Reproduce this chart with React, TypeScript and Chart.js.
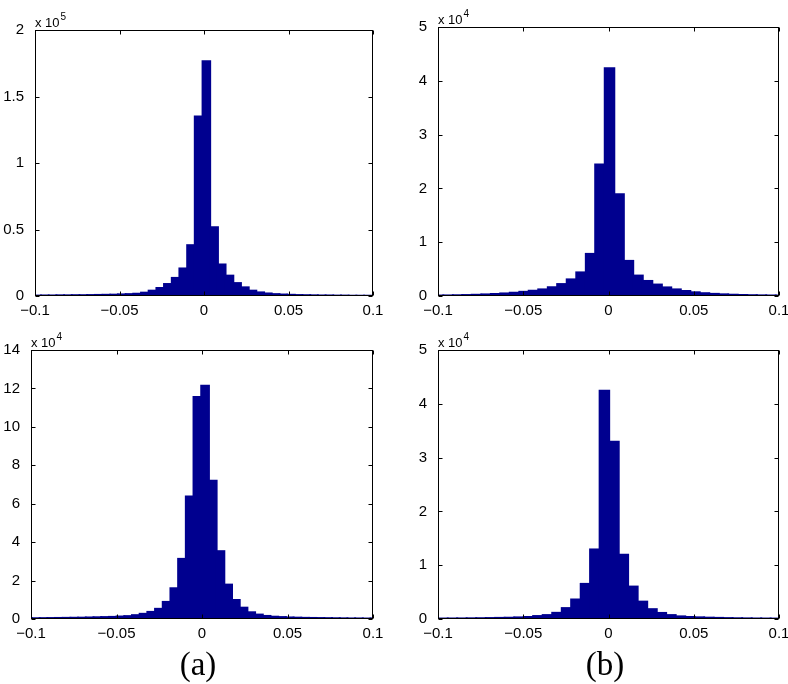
import { useEffect, useRef } from 'react';
import { Chart, registerables } from 'chart.js';

Chart.register(...registerables);

// ---------- data ----------
const xTickValues = [-0.1, -0.05, 0, 0.05, 0.1];
const xTickLabels = ['\u22120.1', '\u22120.05', '0', '0.05', '0.1'];

// top-left histogram (x 10^5)
const binsTL = [
  -0.0987, -0.0942, -0.0896, -0.0851, -0.0805, -0.076, -0.0714, -0.0669, -0.0623, -0.0578, -0.0532,
  -0.0487, -0.0441, -0.0396, -0.035, -0.0305, -0.0259, -0.0214, -0.0168, -0.0123, -0.0077, -0.0032,
  0.0014, 0.006, 0.0105, 0.0151, 0.0196, 0.0242, 0.0287, 0.0333, 0.0378, 0.0424, 0.0469,
  0.0515, 0.056, 0.0606, 0.0651, 0.0697, 0.0742, 0.0788, 0.0833, 0.0879, 0.0924, 0.097,
];
const countsTL = [
  600, 700, 700, 800, 800, 900, 900, 1000, 1100, 1200, 1300,
  1500, 1700, 2000, 2800, 4300, 6300, 9300, 13900, 21000, 38500, 135300,
  176800, 52000, 24000, 15600, 10000, 6800, 4300, 3000, 2200, 1700, 1400,
  1200, 1000, 900, 800, 700, 700, 600, 600, 500, 500, 500,
];
const yTicksTL = [0, 50000, 100000, 150000, 200000];
const yLabelsTL = ['0', '0.5', '1', '1.5', '2'];

// top-right histogram (x 10^4)
const binsTR = [
  -0.0997, -0.0941, -0.0885, -0.083, -0.0774, -0.0718, -0.0662, -0.0607, -0.0551, -0.0495,
  -0.044, -0.0384, -0.0328, -0.0273, -0.0217, -0.0161, -0.0105, -0.005, 0.0006,
  0.0062, 0.0117, 0.0173, 0.0229, 0.0285, 0.034, 0.0396, 0.0452, 0.0507, 0.0563,
  0.0619, 0.0674, 0.073, 0.0786, 0.0842, 0.0897, 0.0953, 0.1009,
];
const countsTR = [
  160, 180, 210, 250, 300, 370, 450, 550, 680, 850,
  1050, 1300, 1700, 2290, 3160, 4460, 7900, 24500, 42400,
  19000, 6600, 3870, 2870, 2200, 1670, 1300, 1000, 760, 590,
  470, 380, 310, 260, 220, 190, 170, 150,
];
const yTicksTR = [0, 10000, 20000, 30000, 40000, 50000];
const yLabelsTR = ['0', '1', '2', '3', '4', '5'];

// bottom-left histogram (x 10^4)
const binsBL = [
  -0.1017, -0.0972, -0.0927, -0.0882, -0.0837, -0.0792, -0.0747, -0.0702, -0.0657, -0.0612, -0.0567,
  -0.0522, -0.0477, -0.0432, -0.0387, -0.0342, -0.0297, -0.0252, -0.0207, -0.0162, -0.0117, -0.0072,
  -0.0027, 0.0018, 0.0063, 0.0108, 0.0153, 0.0198, 0.0243, 0.0288, 0.0333, 0.0378, 0.0423,
  0.0468, 0.0513, 0.0558, 0.0603, 0.0648, 0.0693, 0.0738, 0.0783, 0.0828, 0.0873, 0.0918, 0.0963, 0.1008,
];
const countsBL = [
  600, 600, 650, 700, 750, 800, 850, 900, 1000, 1100, 1200,
  1300, 1500, 1700, 2200, 2900, 3900, 5500, 9100, 16200, 31500, 64000,
  115800, 121600, 72100, 35500, 18100, 10100, 6100, 3700, 2500, 1800, 1400,
  1200, 1000, 900, 800, 750, 700, 650, 600, 550, 500, 500, 450, 450,
];
const yTicksBL = [0, 20000, 40000, 60000, 80000, 100000, 120000, 140000];
const yLabelsBL = ['0', '2', '4', '6', '8', '10', '12', '14'];

// bottom-right histogram (x 10^4)
const binsBR = [
  -0.1027, -0.0971, -0.0915, -0.086, -0.0804, -0.0748, -0.0692, -0.0637, -0.0581, -0.0525,
  -0.0469, -0.0414, -0.0358, -0.0302, -0.0246, -0.0191, -0.0135, -0.008, -0.0024,
  0.0032, 0.0087, 0.0143, 0.0199, 0.0255, 0.031, 0.0366, 0.0422, 0.0477, 0.0533,
  0.0589, 0.0645, 0.07, 0.0756, 0.0812, 0.0868, 0.0923, 0.0979,
];
const countsBR = [
  150, 160, 170, 180, 200, 220, 250, 280, 310, 370,
  450, 620, 800, 1220, 2100, 3700, 6600, 13000, 42500,
  33000, 12000, 6100, 3300, 1900, 1200, 800, 560, 450, 380,
  320, 280, 240, 210, 190, 170, 160, 150,
];
const yTicksBR = [0, 10000, 20000, 30000, 40000, 50000];
const yLabelsBR = ['0', '1', '2', '3', '4', '5'];

const captions = ['(a)', '(b)'];

// ---------- styling ----------
const BAR_COLOR = '#00008f';
const SANS = '"Liberation Sans", Arial, Helvetica, sans-serif';

const framePlugin = {
  id: 'matlabFrame',
  afterDatasetsDraw(chart: any, _args: any, opts: any) {
    const { ctx, chartArea: a, scales } = chart;
    ctx.save();
    ctx.strokeStyle = '#000';
    ctx.lineWidth = 1;
    const l = Math.round(a.left) + 0.5;
    const r = Math.round(a.right) - 0.5;
    const t = Math.round(a.top) + 0.5;
    const b = Math.round(a.bottom) - 0.5;
    ctx.strokeRect(l, t, r - l, b - t);
    const L = 4;
    ctx.beginPath();
    scales.x.ticks.forEach((tk: any) => {
      const p = Math.round(scales.x.getPixelForValue(tk.value)) + 0.5;
      ctx.moveTo(p, b);
      ctx.lineTo(p, b - L);
      ctx.moveTo(p, t);
      ctx.lineTo(p, t + L);
    });
    scales.y.ticks.forEach((tk: any) => {
      const p = Math.round(scales.y.getPixelForValue(tk.value)) + 0.5;
      ctx.moveTo(l, p);
      ctx.lineTo(l + L, p);
      ctx.moveTo(r, p);
      ctx.lineTo(r - L, p);
    });
    ctx.stroke();
    ctx.fillStyle = '#000';
    ctx.textAlign = 'left';
    ctx.textBaseline = 'alphabetic';
    ctx.font = `13px ${SANS}`;
    const base = 'x 10';
    ctx.fillText(base, a.left, a.top - 3);
    const w = ctx.measureText(base).width;
    ctx.font = `10px ${SANS}`;
    ctx.fillText(opts.exponent, a.left + w + 1, a.top - 10);
    ctx.restore();
  },
};

type Spec = {
  bins: number[];
  counts: number[];
  yTicks: number[];
  yLabels: string[];
  exp: string;
  cx: number;
  cy: number;
  w: number;
  h: number;
  W: number;
  R: number;
  T: number;
  H: number;
};

function Hist({ spec }: { spec: Spec }) {
  const ref = useRef<HTMLCanvasElement | null>(null);
  useEffect(() => {
    if (!ref.current) return;
    const tickFont = { family: SANS, size: 15 };
    const chart = new Chart(ref.current, {
      type: 'bar',
      data: {
        datasets: [
          {
            data: spec.bins.map((b, i) => ({ x: b, y: spec.counts[i] })),
            backgroundColor: BAR_COLOR,
            borderWidth: 0,
            barPercentage: 1.1,
            categoryPercentage: 1,
            inflateAmount: 0.6,
            grouped: false,
          } as any,
        ],
      },
      options: {
        responsive: false,
        animation: false,
        devicePixelRatio: 1,
        events: [],
        layout: { padding: { left: 0, right: spec.R, top: spec.T, bottom: 0 } },
        plugins: {
          legend: { display: false },
          tooltip: { enabled: false },
          matlabFrame: { exponent: spec.exp },
        } as any,
        scales: {
          x: {
            type: 'linear',
            min: -0.1,
            max: 0.1,
            offset: false,
            grid: { display: false, offset: false },
            border: { display: false },
            afterBuildTicks: (s: any) => {
              s.ticks = xTickValues.map((v) => ({ value: v }));
            },
            afterFit: (s: any) => {
              s.height = spec.H;
            },
            ticks: {
              autoSkip: false,
              maxRotation: 0,
              padding: -2,
              color: '#000',
              font: tickFont,
              callback: (_v: any, i: number) => xTickLabels[i],
            },
          },
          y: {
            type: 'linear',
            min: 0,
            max: spec.yTicks[spec.yTicks.length - 1],
            grid: { display: false },
            border: { display: false },
            afterBuildTicks: (s: any) => {
              s.ticks = spec.yTicks.map((v) => ({ value: v }));
            },
            afterFit: (s: any) => {
              s.width = spec.W;
            },
            ticks: {
              autoSkip: false,
              padding: 3,
              color: '#000',
              font: tickFont,
              callback: (_v: any, i: number) => spec.yLabels[i],
            },
          },
        } as any,
      },
      plugins: [framePlugin as any],
    });
    return () => chart.destroy();
  }, [spec]);
  return (
    <canvas
      ref={ref}
      width={spec.w}
      height={spec.h}
      style={{ position: 'absolute', left: spec.cx, top: spec.cy, width: spec.w, height: spec.h, display: 'block' }}
    />
  );
}

const specs: Spec[] = [
  { bins: binsTL, counts: countsTL, yTicks: yTicksTL, yLabels: yLabelsTL, exp: '5', cx: 0, cy: 0, w: 394, h: 330, W: 35, R: 21, T: 30, H: 34 },
  { bins: binsTR, counts: countsTR, yTicks: yTicksTR, yLabels: yLabelsTR, exp: '4', cx: 394, cy: 0, w: 420, h: 330, W: 44, R: 35, T: 27, H: 34 },
  { bins: binsBL, counts: countsBL, yTicks: yTicksBL, yLabels: yLabelsBL, exp: '4', cx: 0, cy: 330, w: 394, h: 324, W: 31, R: 21, T: 20, H: 35 },
  { bins: binsBR, counts: countsBR, yTicks: yTicksBR, yLabels: yLabelsBR, exp: '4', cx: 394, cy: 330, w: 420, h: 324, W: 44, R: 35, T: 20, H: 35 },
];

const captionStyle = (x: number): any => ({
  position: 'absolute',
  left: x,
  top: 648,
  transform: 'translateX(-50%)',
  fontFamily: '"Liberation Serif", "Times New Roman", serif',
  fontSize: 33,
  lineHeight: '33px',
  whiteSpace: 'nowrap',
  color: '#000',
});

export default function App() {
  return (
    <div
      style={{
        position: 'absolute',
        left: 0,
        top: 0,
        width: 788,
        height: 684,
        overflow: 'hidden',
        background: '#fff',
      }}
    >
      {specs.map((s, i) => (
        <Hist key={i} spec={s} />
      ))}
      <div style={captionStyle(198)}>{captions[0]}</div>
      <div style={captionStyle(605)}>{captions[1]}</div>
    </div>
  );
}
